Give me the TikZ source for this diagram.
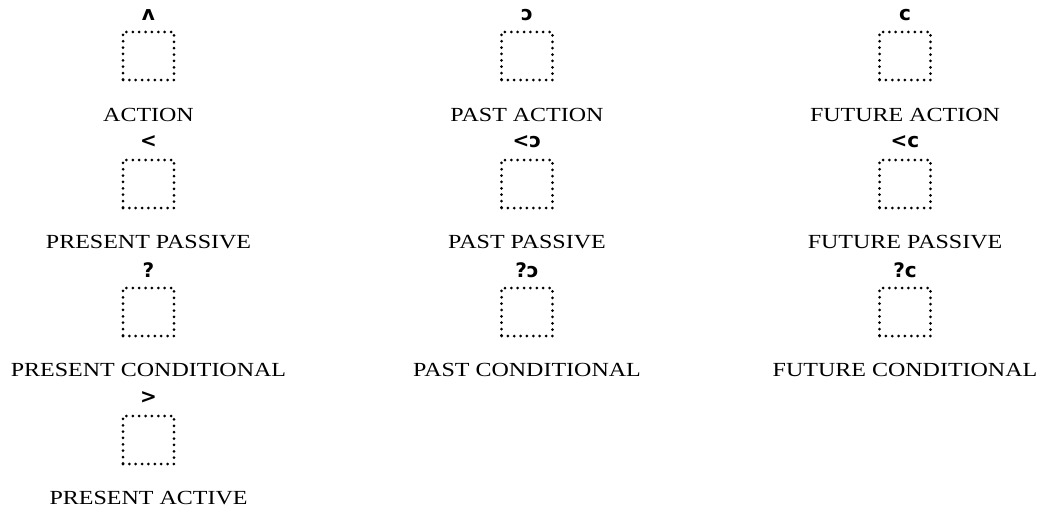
\documentclass[tikz,border=0pt]{standalone}
\usepackage{fontspec}
\setmainfont{Liberation Serif}
\newfontfamily\symfont{DejaVu Sans Bold}
\tikzset{
  slot/.style={minimum width=51pt, minimum height=48pt, inner sep=0pt, draw, line width=3pt, line cap=round, dash pattern=on 0pt off 6.37pt},
  sym/.style={inner sep=0pt, font=\symfont\fontsize{20pt}{20pt}\selectfont},
  lbl/.style={inner sep=0pt, font=\fontsize{20pt}{20pt}\selectfont}
}
\newcommand{\wlabel}[1]{\scalebox{1.2}[1]{#1}}
\begin{document}
\begin{tikzpicture}[x=1pt,y=-1pt]
\useasboundingbox (0,0) rectangle (1043,511);
% row 1
\node[slot] (b11) at (148.5,56) {};
\node[sym] (s11) at (148.5,15) {ʌ};
\node[lbl] (l11) at (148.5,115) {\wlabel{ACTION}};
\node[slot] (b12) at (527,56) {};
\node[sym] (s12) at (527,15) {ɔ};
\node[lbl] (l12) at (527,115) {\wlabel{PAST ACTION}};
\node[slot] (b13) at (905,56) {};
\node[sym] (s13) at (905,15) {c};
\node[lbl] (l13) at (905,115) {\wlabel{FUTURE ACTION}};
% row 2
\node[slot] (b21) at (148.5,184) {};
\node[sym] (s21) at (148.5,142) {<};
\node[lbl] (l21) at (148.5,242) {\wlabel{PRESENT PASSIVE}};
\node[slot] (b22) at (527,184) {};
\node[sym] (s22) at (527,142) {<ɔ};
\node[lbl] (l22) at (527,242) {\wlabel{PAST PASSIVE}};
\node[slot] (b23) at (905,184) {};
\node[sym] (s23) at (905,142) {<c};
\node[lbl] (l23) at (905,242) {\wlabel{FUTURE PASSIVE}};
% row 3
\node[slot] (b31) at (148.5,312) {};
\node[sym] (s31) at (148.5,270) {?};
\node[lbl] (l31) at (148.5,370) {\wlabel{PRESENT CONDITIONAL}};
\node[slot] (b32) at (527,312) {};
\node[sym] (s32) at (527,270) {?ɔ};
\node[lbl] (l32) at (527,370) {\wlabel{PAST CONDITIONAL}};
\node[slot] (b33) at (905,312) {};
\node[sym] (s33) at (905,270) {?c};
\node[lbl] (l33) at (905,370) {\wlabel{FUTURE CONDITIONAL}};
% row 4
\node[slot] (b41) at (148.5,440) {};
\node[sym] (s41) at (148.5,398) {>};
\node[lbl] (l41) at (148.5,498) {\wlabel{PRESENT ACTIVE}};
\end{tikzpicture}
\end{document}
